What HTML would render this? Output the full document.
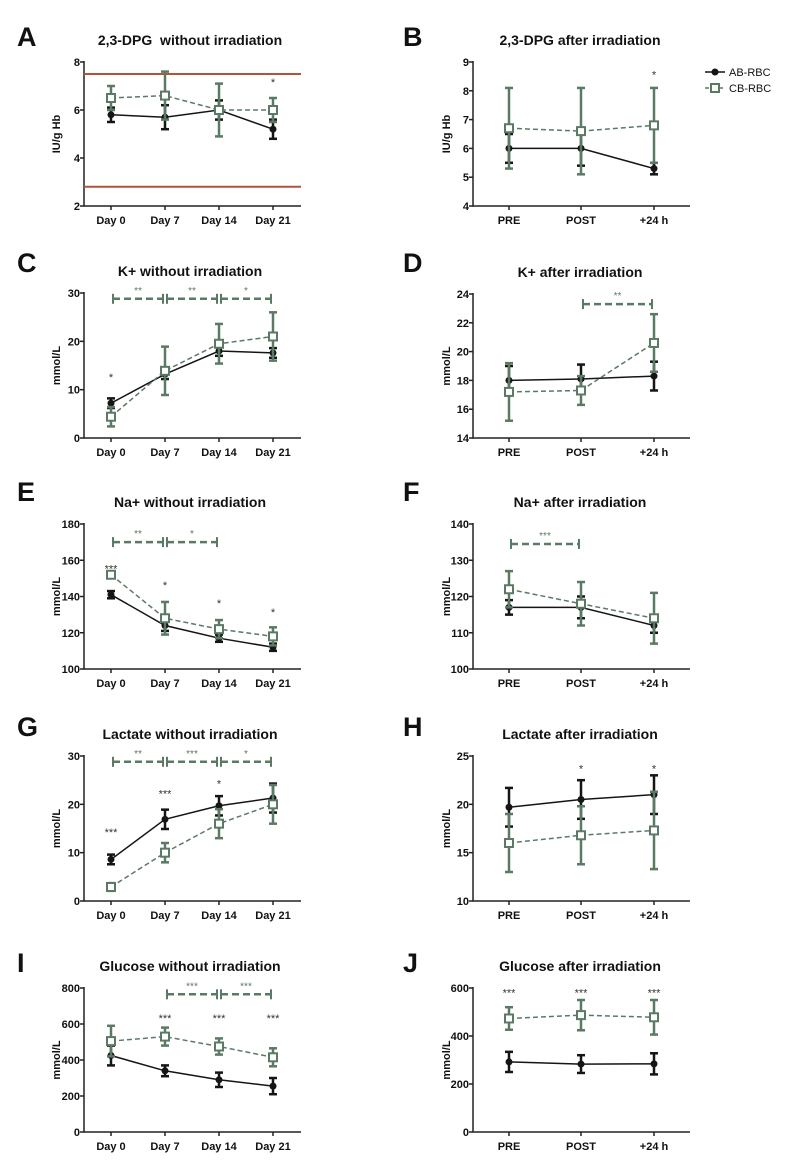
<!DOCTYPE html>
<html><head><meta charset="utf-8"><style>
body{margin:0;background:#fff;}
svg{display:block;font-family:"Liberation Sans",Arial,sans-serif;}
</style></head><body>
<svg id="fig" width="800" height="1174" viewBox="0 0 800 1174"></svg>
<script>
// ---- data ----
const daysCats=["Day 0","Day 7","Day 14","Day 21"];
const irrCats=["PRE","POST","+24 h"];

const aTicks=[2,4,6,8];
const aAB=[5.8,5.7,6.0,5.2]; const aABerr=[0.3,0.5,0.4,0.4];
const aCB=[6.5,6.6,6.0,6.0]; const aCBerr=[0.5,1.0,1.1,0.5];
const aRefLines=[7.5,2.8];
const aStars=["","","","*"]; const aStarY=[0,0,0,7.2];

const bTicks=[4,5,6,7,8,9];
const bAB=[6.0,6.0,5.3]; const bABerr=[0.5,0.6,0.2];
const bCB=[6.7,6.6,6.8]; const bCBerr=[1.4,1.5,1.3];
const bStars=["","","*"]; const bStarY=[0,0,8.6];

const cTicks=[0,10,20,30];
const cAB=[7.2,13.2,18.0,17.6]; const cABerr=[1.0,1.0,1.0,1.0];
const cCB=[4.4,13.9,19.5,21.0]; const cCBerr=[2.0,5.0,4.1,5.0];
const cStars=["*","","",""]; const cStarY=[12.8,0,0,0];
const cBrackets=[[0,1,"**"],[1,2,"**"],[2,3,"*"]]; const cBracketY=28.8;

const dTicks=[14,16,18,20,22,24];
const dAB=[18.0,18.1,18.3]; const dABerr=[1.0,1.0,1.0];
const dCB=[17.2,17.3,20.6]; const dCBerr=[2.0,1.0,2.0];
const dStars=["","",""]; const dStarY=[0,0,0];
const dBrackets=[[1,2,"**"]]; const dBracketY=23.3;

const eTicks=[100,120,140,160,180];
const eAB=[141,124,117,112]; const eABerr=[2,3,2,2];
const eCB=[152,128,122,118]; const eCBerr=[1,9,5,5];
const eStars=["***","*","*","*"]; const eStarY=[156,147,137,132];
const eBrackets=[[0,1,"**"],[1,2,"*"]]; const eBracketY=170;

const fTicks=[100,110,120,130,140];
const fAB=[117,117,112]; const fABerr=[2,3,2];
const fCB=[122,118,114]; const fCBerr=[5,6,7];
const fStars=["","",""]; const fStarY=[0,0,0];
const fBrackets=[[0,1,"***"]]; const fBracketY=134.5;

const gTicks=[0,10,20,30];
const gAB=[8.6,16.9,19.7,21.3]; const gABerr=[1.0,2.0,2.0,3.0];
const gCB=[2.9,10.0,16.0,20.0]; const gCBerr=[0.8,2.0,3.0,4.0];
const gStars=["***","***","*",""]; const gStarY=[14.5,22.5,24.5,0];
const gBrackets=[[0,1,"**"],[1,2,"***"],[2,3,"*"]]; const gBracketY=28.8;

const hTicks=[10,15,20,25];
const hAB=[19.7,20.5,21.0]; const hABerr=[2.0,2.0,2.0];
const hCB=[16.0,16.8,17.3]; const hCBerr=[3.0,3.0,4.0];
const hStars=["","*","*"]; const hStarY=[0,23.8,23.8];

const iTicks=[0,200,400,600,800];
const iAB=[425,340,290,255]; const iABerr=[55,30,40,45];
const iCB=[505,530,475,415]; const iCBerr=[85,50,45,50];
const iStars=["","***","***","***"]; const iStarY=[0,640,640,640];
const iBrackets=[[1,2,"***"],[2,3,"***"]]; const iBracketY=765;

const jTicks=[0,200,400,600];
const jAB=[292,283,284]; const jABerr=[42,37,44];
const jCB=[473,487,478]; const jCBerr=[47,63,72];
const jStars=["***","***","***"]; const jStarY=[585,585,585];

// ---- layout ----
const NS="http://www.w3.org/2000/svg";
const svg=document.getElementById('fig');
const BLACK="#151515", GREEN="#5b7a64", RED="#b5523c";
function mk(tag,attrs,parent,text){const e=document.createElementNS(NS,tag);for(const k in attrs)e.setAttribute(k,attrs[k]);if(text!==undefined)e.textContent=text;(parent||svg).appendChild(e);return e;}

const LEFT={x0:84,x1:301,pos:[111,165,219,273],tx:190,lx:17,ylab:60};
const RIGHT={x0:473,x1:690,pos:[509,581,654],tx:580,lx:403,ylab:450};

const panels=[
 {id:"a",L:"A",col:LEFT,top:62,bot:206,title:"2,3-DPG\u00a0 without irradiation",ylab:"IU/g Hb",cats:daysCats,ticks:aTicks,ab:aAB,abe:aABerr,cb:aCB,cbe:aCBerr,stars:aStars,starY:aStarY,ref:aRefLines,ly:42},
 {id:"b",L:"B",col:RIGHT,top:62,bot:206,title:"2,3-DPG after irradiation",ylab:"IU/g Hb",cats:irrCats,ticks:bTicks,ab:bAB,abe:bABerr,cb:bCB,cbe:bCBerr,stars:bStars,starY:bStarY,ly:42,legend:true},
 {id:"c",L:"C",col:LEFT,top:293,bot:438,title:"K+ without irradiation",ylab:"mmol/L",cats:daysCats,ticks:cTicks,ab:cAB,abe:cABerr,cb:cCB,cbe:cCBerr,stars:cStars,starY:cStarY,br:cBrackets,brY:cBracketY,ly:268},
 {id:"d",L:"D",col:RIGHT,top:294,bot:438,title:"K+ after irradiation",ylab:"mmol/L",cats:irrCats,ticks:dTicks,ab:dAB,abe:dABerr,cb:dCB,cbe:dCBerr,stars:dStars,starY:dStarY,br:dBrackets,brY:dBracketY,ly:268},
 {id:"e",L:"E",col:LEFT,top:524,bot:669,title:"Na+ without irradiation",ylab:"mmol/L",cats:daysCats,ticks:eTicks,ab:eAB,abe:eABerr,cb:eCB,cbe:eCBerr,stars:eStars,starY:eStarY,br:eBrackets,brY:eBracketY,ly:497},
 {id:"f",L:"F",col:RIGHT,top:524,bot:669,title:"Na+ after irradiation",ylab:"mmol/L",cats:irrCats,ticks:fTicks,ab:fAB,abe:fABerr,cb:fCB,cbe:fCBerr,stars:fStars,starY:fStarY,br:fBrackets,brY:fBracketY,ly:497},
 {id:"g",L:"G",col:LEFT,top:756,bot:901,title:"Lactate without irradiation",ylab:"mmol/L",cats:daysCats,ticks:gTicks,ab:gAB,abe:gABerr,cb:gCB,cbe:gCBerr,stars:gStars,starY:gStarY,br:gBrackets,brY:gBracketY,ly:732},
 {id:"h",L:"H",col:RIGHT,top:756,bot:901,title:"Lactate after irradiation",ylab:"mmol/L",cats:irrCats,ticks:hTicks,ab:hAB,abe:hABerr,cb:hCB,cbe:hCBerr,stars:hStars,starY:hStarY,ly:732},
 {id:"i",L:"I",col:LEFT,top:988,bot:1132,title:"Glucose without irradiation",ylab:"mmol/L",cats:daysCats,ticks:iTicks,ab:iAB,abe:iABerr,cb:iCB,cbe:iCBerr,stars:iStars,starY:iStarY,br:iBrackets,brY:iBracketY,ly:968},
 {id:"j",L:"J",col:RIGHT,top:988,bot:1132,title:"Glucose after irradiation",ylab:"mmol/L",cats:irrCats,ticks:jTicks,ab:jAB,abe:jABerr,cb:jCB,cbe:jCBerr,stars:jStars,starY:jStarY,ly:968}
];

panels.forEach(p=>{
 const c=p.col;
 const g=mk('g',{});
 
 
 const tmin=p.ticks[0], tmax=p.ticks[p.ticks.length-1];
 const y=v=>p.bot-(v-tmin)/(tmax-tmin)*(p.bot-p.top);
 const x=i=>c.pos[i];

 const let_=mk('text',{x:c.lx,y:p.ly+4,'font-size':27,'font-weight':'bold',fill:'#111'},g,p.L);
 
 
 const t=mk('text',{x:c.tx,y:p.top-17,'font-size':14,'font-weight':'bold','text-anchor':'middle',fill:'#111'},g,p.title);
 
 
 const yl=mk('text',{x:0,y:0,'font-size':11,'font-weight':'bold','text-anchor':'middle',fill:'#111',transform:`translate(${c.ylab},${(p.top+p.bot)/2}) rotate(-90)`},g,p.ylab);
 
 

 const ax=mk('path',{d:`M${c.x0},${p.top-1}V${p.bot}H${c.x1}`,stroke:'#222','stroke-width':1.5,fill:'none'},g);
 
 
 p.ticks.forEach(v=>{
  mk('line',{x1:c.x0-4,x2:c.x0,y1:y(v),y2:y(v),stroke:'#222','stroke-width':1.5},g);
  const tl=mk('text',{x:c.x0-4,y:y(v)+4,'font-size':11,'font-weight':'bold','text-anchor':'end',fill:'#111'},g,String(v));
  
  
 });
 p.cats.forEach((cat,i)=>{
  mk('line',{x1:x(i),x2:x(i),y1:p.bot,y2:p.bot+4,stroke:'#222','stroke-width':1.5},g);
  const xl=mk('text',{x:x(i),y:p.bot+18,'font-size':11,'font-weight':'bold','text-anchor':'middle',fill:'#111'},g,cat);
  
  
 });

 if(p.ref) p.ref.forEach(v=>{
  const r=mk('line',{x1:c.x0,x2:c.x1,y1:y(v),y2:y(v),stroke:RED,'stroke-width':2},g);
  
  
 });

 function series(vals,errs,color,dash,square,name){
  const sg=mk('g',{},g);
  
  
  vals.forEach((v,i)=>{
   const e=errs[i];
   mk('line',{x1:x(i),x2:x(i),y1:y(v-e),y2:y(v+e),stroke:color,'stroke-width':2.5},sg);
   mk('line',{x1:x(i)-4,x2:x(i)+4,y1:y(v-e),y2:y(v-e),stroke:color,'stroke-width':2.5},sg);
   mk('line',{x1:x(i)-4,x2:x(i)+4,y1:y(v+e),y2:y(v+e),stroke:color,'stroke-width':2.5},sg);
  });
  mk('polyline',{points:vals.map((v,i)=>x(i)+','+y(v)).join(' '),fill:'none',stroke:color,'stroke-width':1.5,'stroke-dasharray':dash?'5,3':'none'},sg);
  vals.forEach((v,i)=>{
   if(square){const m=mk('rect',{x:x(i)-4,y:y(v)-4,width:8,height:8,fill:'#fff',stroke:color,'stroke-width':2},sg);
    }
   else{const m=mk('circle',{cx:x(i),cy:y(v),r:3.5,fill:color},sg);
    }
  });
 }
 series(p.ab,p.abe,BLACK,false,false,'ab-rbc');
 series(p.cb,p.cbe,GREEN,true,true,'cb-rbc');

 p.stars.forEach((s,i)=>{ if(!s) return;
  const st=mk('text',{x:x(i),y:y(p.starY[i])+5,'font-size':11,'text-anchor':'middle',fill:'#333'},g,s);
  
  
 });

 if(p.br) p.br.forEach(b=>{
  const x1=x(b[0])+2,x2=x(b[1])-2,yy=y(p.brY);
  const bg=mk('g',{},g);
  
  
  mk('line',{x1:x1,x2:x2,y1:yy,y2:yy,stroke:GREEN,'stroke-width':2.5,'stroke-dasharray':'7,4'},bg);
  mk('line',{x1:x1,x2:x1,y1:yy-5,y2:yy+5,stroke:GREEN,'stroke-width':2},bg);
  mk('line',{x1:x2,x2:x2,y1:yy-5,y2:yy+5,stroke:GREEN,'stroke-width':2},bg);
  mk('text',{x:(x1+x2)/2,y:yy-5,'font-size':10,'text-anchor':'middle',fill:GREEN},bg,b[2]);
 });

 if(p.legend){
  const lg=mk('g',{},g);
  
  
  const e1=mk('g',{},lg);
  
  
  mk('line',{x1:705,x2:725,y1:72,y2:72,stroke:BLACK,'stroke-width':1.5},e1);
  mk('circle',{cx:715,cy:72,r:3.5,fill:BLACK},e1);
  mk('text',{x:729,y:76,'font-size':11,fill:'#111'},e1,'AB-RBC');
  const e2=mk('g',{},lg);
  
  
  mk('line',{x1:705,x2:725,y1:88,y2:88,stroke:GREEN,'stroke-width':1.5,'stroke-dasharray':'4,3'},e2);
  mk('rect',{x:711,y:84,width:8,height:8,fill:'#fff',stroke:GREEN,'stroke-width':2},e2);
  mk('text',{x:729,y:92,'font-size':11,fill:'#111'},e2,'CB-RBC');
 }
});
</script>
</body></html>
